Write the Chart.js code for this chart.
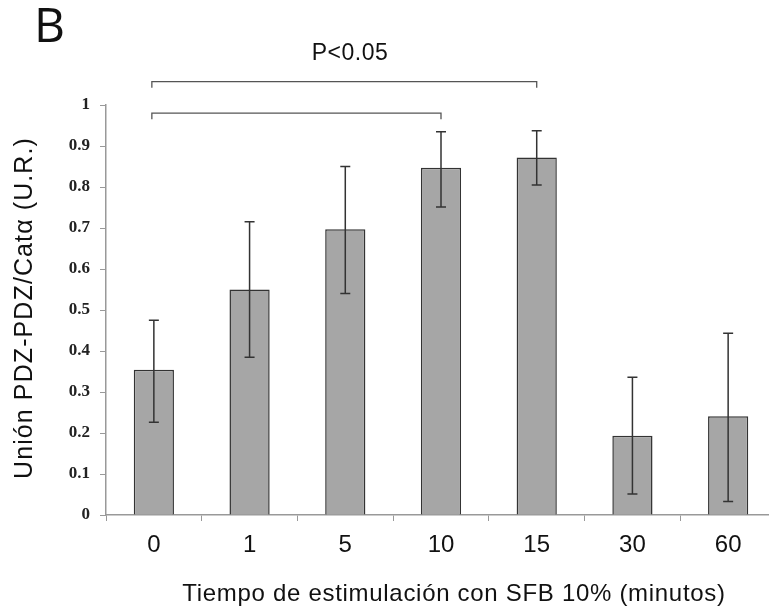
<!DOCTYPE html>
<html>
<head>
<meta charset="utf-8">
<script src="https://cdn.jsdelivr.net/npm/chart.js@4.4.0/dist/chart.umd.min.js"></script>
<style>
  html, body { margin: 0; padding: 0; background: #fff; overflow: hidden; }
  #wrap { position: relative; width: 776px; height: 611px; }
</style>
</head>
<body>
<div id="wrap"><canvas id="myBarChart" width="776" height="611"></canvas></div>
<script>
// datos
var categories = ['0', '1', '5', '10', '15', '30', '60'];
var means = [0.354, 0.55, 0.697, 0.847, 0.872, 0.193, 0.241];
var errHigh = [0.475, 0.715, 0.85, 0.935, 0.937, 0.336, 0.443];
var errLow = [0.226, 0.385, 0.54, 0.751, 0.805, 0.051, 0.033];
var yTickLabels = ['0', '0.1', '0.2', '0.3', '0.4', '0.5', '0.6', '0.7', '0.8', '0.9', '1'];
// corchetes de significancia: [desde, hasta, nivel en y]
var bracketFrom = ['0', '0'];
var bracketTo = ['15', '10'];
var bracketLevel = [1.057, 0.98];
var pLabel = 'P<0.05';
var xTitle = 'Tiempo de estimulación con SFB 10% (minutos)';
var yTitle = 'Unión PDZ-PDZ/Catα (U.R.)';
var panelLetter = 'B';

var ctx = document.getElementById('myBarChart').getContext('2d');
var sans = '"Liberation Sans", Arial, sans-serif';

// barras de error
var errorBars = {
    id: 'errorBars',
    afterDatasetsDraw: function (chart) {
        var c = chart.ctx, x = chart.scales.x, y = chart.scales.y;
        c.save();
        c.strokeStyle = '#333';
        c.lineWidth = 1.5;
        for (var i = 0; i < means.length; i++) {
            var px = x.getPixelForValue(i);
            var top = y.getPixelForValue(errHigh[i]);
            var bot = y.getPixelForValue(errLow[i]);
            c.beginPath();
            c.moveTo(px, top); c.lineTo(px, bot);
            c.moveTo(px - 5, top); c.lineTo(px + 5, top);
            c.moveTo(px - 5, bot); c.lineTo(px + 5, bot);
            c.stroke();
        }
        c.restore();
    }
};

// corchetes, texto P y titulos
var extras = {
    id: 'extras',
    afterDraw: function (chart) {
        var c = chart.ctx, x = chart.scales.x, y = chart.scales.y;
        c.save();
        c.strokeStyle = '#555';
        c.lineWidth = 1.3;
        for (var i = 0; i < bracketFrom.length; i++) {
            var x1 = x.getPixelForValue(categories.indexOf(bracketFrom[i])) - 2;
            var x2 = x.getPixelForValue(categories.indexOf(bracketTo[i]));
            var py = y.getPixelForValue(bracketLevel[i]);
            c.beginPath();
            c.moveTo(x1, py + 6); c.lineTo(x1, py); c.lineTo(x2, py); c.lineTo(x2, py + 6);
            c.stroke();
        }
        c.fillStyle = '#111';
        c.textAlign = 'center';
        c.textBaseline = 'middle';
        c.letterSpacing = '0.5px';
        c.font = '23px ' + sans;
        c.fillText(pLabel, 350, 54);

        // titulo eje x
        c.letterSpacing = '0.7px';
        c.font = '24px ' + sans;
        c.fillText(xTitle, 454, 594);

        // titulo eje y
        c.save();
        c.translate(25, 308);
        c.rotate(-Math.PI / 2);
        c.letterSpacing = '1.1px';
        c.font = '25px ' + sans;
        c.fillText(yTitle, 0, 0);
        c.restore();

        c.letterSpacing = '0px';
        c.font = '48px "Open Sans", "Liberation Sans", sans-serif';
        c.textAlign = 'left';
        c.fillText(panelLetter, 34, 28);
        c.restore();
    }
};

var myBarChart = new Chart(ctx, {
    type: 'bar',
    data: {
        labels: categories,
        datasets: [{
            data: means,
            backgroundColor: '#a6a6a6',
            borderColor: '#333',
            borderWidth: 1.5,
            categoryPercentage: 1,
            barPercentage: 0.42
        }]
    },
    options: {
        responsive: false,
        animation: false,
        devicePixelRatio: 1,
        layout: { padding: { top: 105, right: 0, bottom: 0, left: 0 } },
        plugins: {
            legend: { display: false },
            tooltip: { enabled: false }
        },
        scales: {
            x: {
                afterFit: function (s) { s.height = 96; },
                grid: { display: true, drawOnChartArea: false, tickLength: 6, color: '#999', offset: true },
                border: { color: '#999', width: 1.5 },
                ticks: {
                    color: '#111',
                    padding: 10,
                    font: { family: sans, size: 24 }
                }
            },
            y: {
                min: 0,
                max: 1,
                afterFit: function (s) { s.width = 106; },
                afterBuildTicks: function (s) {
                    s.ticks = yTickLabels.map(function (t) { return { value: parseFloat(t) }; });
                },
                grid: { display: true, drawOnChartArea: false, tickLength: 6, color: '#999' },
                border: { color: '#999', width: 1.5 },
                ticks: {
                    color: '#222',
                    padding: 10,
                    callback: function (v, i) { return yTickLabels[i]; },
                    font: { family: '"Liberation Serif", "Times New Roman", serif', size: 17, weight: 'bold' }
                }
            }
        }
    },
    plugins: [errorBars, extras]
});
</script>
</body>
</html>
